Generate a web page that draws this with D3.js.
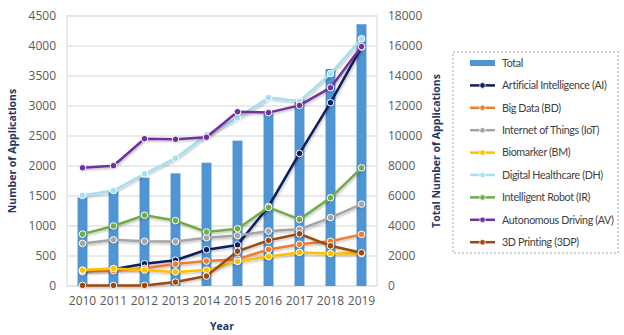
<!DOCTYPE html>
<html>
<head>
<meta charset="utf-8">
<script src="https://cdn.jsdelivr.net/npm/d3@7"></script>
<style>
  body { margin: 0; background: #fff; }
  svg text { font-family: "Open Sans", "Noto Sans", sans-serif; }
  .tick text { fill: #595959; font-size: 12px; }
  .title { fill: #1F3864; font-size: 10.5px; font-weight: bold; }
  .leg { fill: #404040; font-size: 10.7px; font-family: Lato, "Open Sans", sans-serif; letter-spacing: -0.35px; }
</style>
</head>
<body>
<svg id="chart" width="624" height="335"></svg>
<script>
// data
var years = ["2010","2011","2012","2013","2014","2015","2016","2017","2018","2019"];
var total = [5900, 6300, 7220, 7510, 8220, 9690, 11500, 12440, 14470, 17450];

var ai  = [240, 280, 370, 430, 605, 685, 1325, 2210, 3055, 3980];
var bd  = [250, 255, 295, 365, 415, 445, 610, 695, 745, 860];
var iot = [710, 770, 745, 740, 805, 840, 915, 945, 1140, 1365];
var bm  = [265, 290, 265, 235, 265, 410, 490, 560, 540, 540];
var dh  = [1510, 1590, 1870, 2130, 2520, 2800, 3140, 3080, 3540, 4120];
var ir  = [865, 1000, 1180, 1090, 900, 955, 1310, 1110, 1470, 1970];
var av  = [1970, 2005, 2455, 2445, 2480, 2905, 2890, 3010, 3305, 3990];
var tdp = [10, 10, 10, 65, 165, 580, 760, 870, 670, 555];

var leftTicks = d3.range(0, 4501, 500);
var rightTicks = d3.range(0, 18001, 2000);

var series = [
  {name: "Artificial Intelligence (AI)", values: ai, color: "#0E1F5B"},
  {name: "Big Data (BD)", values: bd, color: "#ED7D31"},
  {name: "Internet of Things (IoT)", values: iot, color: "#A5A5A5"},
  {name: "Biomarker (BM)", values: bm, color: "#FFC000"},
  {name: "Digital Healthcare (DH)", values: dh, color: "#A6DEF2"},
  {name: "Intelligent Robot (IR)", values: ir, color: "#70AD47"},
  {name: "Autonomous Driving (AV)", values: av, color: "#7030A0"},
  {name: "3D Printing (3DP)", values: tdp, color: "#9E480E"}
];

const svg = d3.select('#chart');
const plot = {left: 67, right: 377, top: 16, bottom: 286};

const x = d3.scaleBand()
  .domain(years)
  .range([plot.left, plot.right])
  .paddingInner(0.68)
  .paddingOuter(0.34);

const yL = d3.scaleLinear().domain([0, 4500]).range([plot.bottom, plot.top]);
const yR = d3.scaleLinear().domain([0, 18000]).range([plot.bottom, plot.top]);
const cx = d => x(d) + x.bandwidth() / 2;

// shadow for the lines
const defs = svg.append('defs');
defs.append('filter').attr('id', 'shadow')
  .attr('x', '-10%').attr('y', '-10%').attr('width', '120%').attr('height', '130%')
  .append('feDropShadow')
  .attr('dx', 1).attr('dy', 1.5).attr('stdDeviation', 1)
  .attr('flood-color', '#000').attr('flood-opacity', 0.25);

// grid
svg.append('g')
  .selectAll('line')
  .data(leftTicks)
  .enter().append('line')
  .attr('x1', plot.left).attr('x2', plot.right)
  .attr('y1', d => yL(d)).attr('y2', d => yL(d))
  .attr('stroke', '#E3E3E3').attr('stroke-width', 1.5);

svg.append('rect')
  .attr('x', plot.left).attr('y', plot.top)
  .attr('width', plot.right - plot.left).attr('height', plot.bottom - plot.top)
  .attr('fill', 'none').attr('stroke', '#E3E3E3').attr('stroke-width', 1.5);

// bars on the right axis
svg.append('g')
  .selectAll('rect')
  .data(total)
  .enter().append('rect')
  .attr('x', (d, i) => x(years[i]))
  .attr('y', d => yR(d))
  .attr('width', x.bandwidth())
  .attr('height', d => plot.bottom - yR(d))
  .attr('fill', '#4F94D3');

// lines on the left axis
const line = d3.line()
  .x((d, i) => cx(years[i]))
  .y(d => yL(d));

series.forEach(s => {
  const g = svg.append('g');
  g.append('path')
    .datum(s.values)
    .attr('d', line)
    .attr('fill', 'none')
    .attr('stroke', s.color)
    .attr('stroke-width', 2.5)
    .attr('stroke-linejoin', 'round')
    .attr('filter', 'url(#shadow)');
  g.selectAll('circle')
    .data(s.values)
    .enter().append('circle')
    .attr('cx', (d, i) => cx(years[i]))
    .attr('cy', d => yL(d))
    .attr('r', 3.3)
    .attr('fill', s.color)
    .attr('stroke', '#fff')
    .attr('stroke-width', 1);
});

// axes
const fmt = d3.format('d');
const axL = svg.append('g')
  .attr('transform', `translate(${plot.left}, 0)`)
  .call(d3.axisLeft(yL).tickValues(leftTicks).tickFormat(fmt).tickSize(0).tickPadding(11));
axL.select('.domain').remove();

const axR = svg.append('g')
  .attr('transform', `translate(${plot.right}, 0)`)
  .call(d3.axisRight(yR).tickValues(rightTicks).tickFormat(fmt).tickSize(0).tickPadding(11));
axR.select('.domain').remove();

const axB = svg.append('g')
  .attr('transform', `translate(0, ${plot.bottom})`)
  .call(d3.axisBottom(x).tickSize(0).tickPadding(10));
axB.select('.domain').remove();

// titles
svg.append('text')
  .attr('class', 'title')
  .attr('transform', 'translate(16, 151) rotate(-90)')
  .attr('text-anchor', 'middle')
  .text('Number of Applications');

svg.append('text')
  .attr('class', 'title')
  .attr('transform', 'translate(440, 151) rotate(-90)')
  .attr('text-anchor', 'middle')
  .text('Total Number of Applications');

svg.append('text')
  .attr('class', 'title')
  .attr('x', 222).attr('y', 330)
  .attr('text-anchor', 'middle')
  .text('Year');

// legend
svg.append('rect')
  .attr('x', 453).attr('y', 52)
  .attr('width', 165).attr('height', 201)
  .attr('fill', 'none')
  .attr('stroke', '#D0D0D0')
  .attr('stroke-width', 2)
  .attr('stroke-dasharray', '2,2');

const legend = svg.append('g');
const legY = i => 63 + i * 22.4;

legend.append('rect')
  .attr('x', 470).attr('y', legY(0) - 3)
  .attr('width', 25).attr('height', 6)
  .attr('fill', '#4F94D3');
legend.append('text')
  .attr('class', 'leg')
  .attr('x', 502).attr('y', legY(0)).attr('dy', '0.35em')
  .text('Total');

series.forEach((s, i) => {
  const yy = legY(i + 1);
  legend.append('line')
    .attr('x1', 470).attr('x2', 495)
    .attr('y1', yy).attr('y2', yy)
    .attr('stroke', s.color).attr('stroke-width', 2.5);
  legend.append('circle')
    .attr('cx', 482.5).attr('cy', yy).attr('r', 2.8)
    .attr('fill', s.color).attr('stroke', '#fff').attr('stroke-width', 0.8);
  legend.append('text')
    .attr('class', 'leg')
    .attr('x', 502).attr('y', yy).attr('dy', '0.35em')
    .text(s.name);
});
</script>
</body>
</html>
